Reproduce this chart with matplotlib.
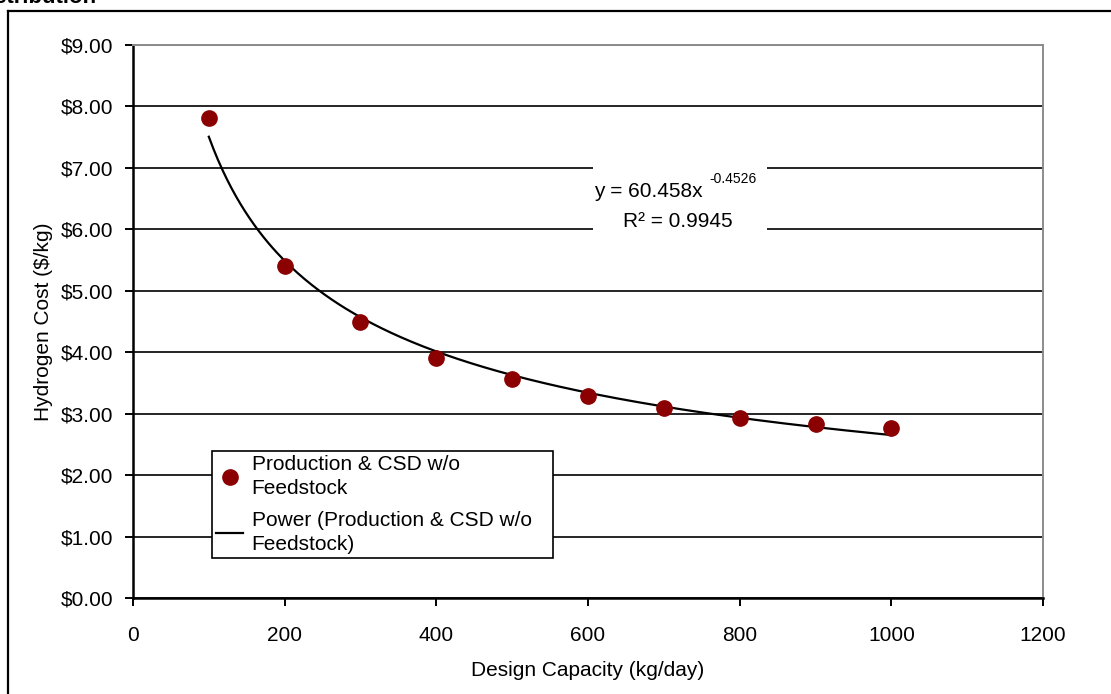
import numpy as np
import matplotlib
matplotlib.use('Agg')
import matplotlib.pyplot as plt
from matplotlib.lines import Line2D
from matplotlib.patches import Rectangle
from matplotlib.ticker import StrMethodFormatter

plt.rcParams['font.family'] = ['Liberation Sans', 'DejaVu Sans']

# data
capacity = [100, 200, 300, 400, 500, 600, 700, 800, 900, 1000]      # kg/day
cost = [7.82, 5.40, 4.50, 3.90, 3.56, 3.28, 3.10, 2.93, 2.84, 2.77]  # $/kg
eq_text = 'y = 60.458x'
eq_exp = '-0.4526'
r2_text = 'R² = 0.9945'
series_label = 'Production & CSD w/o\nFeedstock'
trend_label = 'Power (Production & CSD w/o\nFeedstock)'

# power trendline, fitted like Excel does (least squares in log-log space)
b, ln_a = np.polyfit(np.log(capacity), np.log(cost), 1)
xt = np.linspace(min(capacity), max(capacity), 300)
yt = np.exp(ln_a) * xt ** b

fig = plt.figure(figsize=(11.11, 6.94), dpi=100)
ax = fig.add_axes([0.1197, 0.1383, 0.8191, 0.7968])

# outer frame around the figure (only top and left edges are visible)
fig.add_artist(Line2D([8 / 1111, 8 / 1111], [0, 1 - 11 / 694], color='black', lw=1.6))
fig.add_artist(Line2D([8 / 1111, 1], [1 - 11 / 694, 1 - 11 / 694], color='black', lw=1.6))
# caption above the chart, cut off by the page edge as in the original
fig.text(97 / 1111, 1 - 3 / 694, 'Distribution', ha='right', va='baseline',
         fontsize=16, weight='bold')

ax.plot(capacity, cost, 'o', color='#8B0000', markersize=11, label=series_label, zorder=4)
ax.plot(xt, yt, color='black', lw=1.6, label=trend_label, zorder=3)

ax.set_xlim(0, 1200)
ax.set_ylim(0, 9)
ax.set_xticks(range(0, 1201, 200))
ax.set_yticks(range(0, 10))
ax.yaxis.set_major_formatter(StrMethodFormatter('${x:.2f}'))
ax.tick_params(direction='out', length=6, width=1.4, labelsize=15)
ax.tick_params(axis='y', pad=8)
ax.tick_params(axis='x', pad=14)

ax.set_axisbelow(True)
ax.yaxis.grid(True, color='black', lw=1.2)
for s in ['left', 'bottom']:
    ax.spines[s].set_color('black')
    ax.spines[s].set_linewidth(1.8)
for s in ['top', 'right']:
    ax.spines[s].set_color('#8c8c8c')
    ax.spines[s].set_linewidth(1.4)

ax.set_xlabel('Design Capacity (kg/day)', fontsize=15, labelpad=12)
ax.set_ylabel('Hydrogen Cost ($/kg)', fontsize=15, labelpad=6)

# white box behind the trendline equation
ax.add_patch(Rectangle((606, 5.86), 230, 1.27, facecolor='white', edgecolor='none', zorder=2))
ax.text(608, 6.53, eq_text, fontsize=15, ha='left', va='baseline', zorder=5)
ax.text(760, 6.76, eq_exp, fontsize=10, ha='left', va='baseline', zorder=5)
ax.text(718, 6.04, r2_text, fontsize=15, ha='center', va='baseline', zorder=5)

leg = ax.legend(loc='lower left', bbox_to_anchor=(0.087, 0.072, 0.374, 0.205),
                mode='expand', borderaxespad=0, fontsize=15, numpoints=1,
                handlelength=1.3, handletextpad=0.4, borderpad=0.2,
                labelspacing=0.6, fancybox=False, framealpha=1,
                edgecolor='black')
leg.get_frame().set_linewidth(1.2)
for t in leg.get_texts():
    t.set_linespacing(1.35)

fig.savefig('out.png', dpi=100)
